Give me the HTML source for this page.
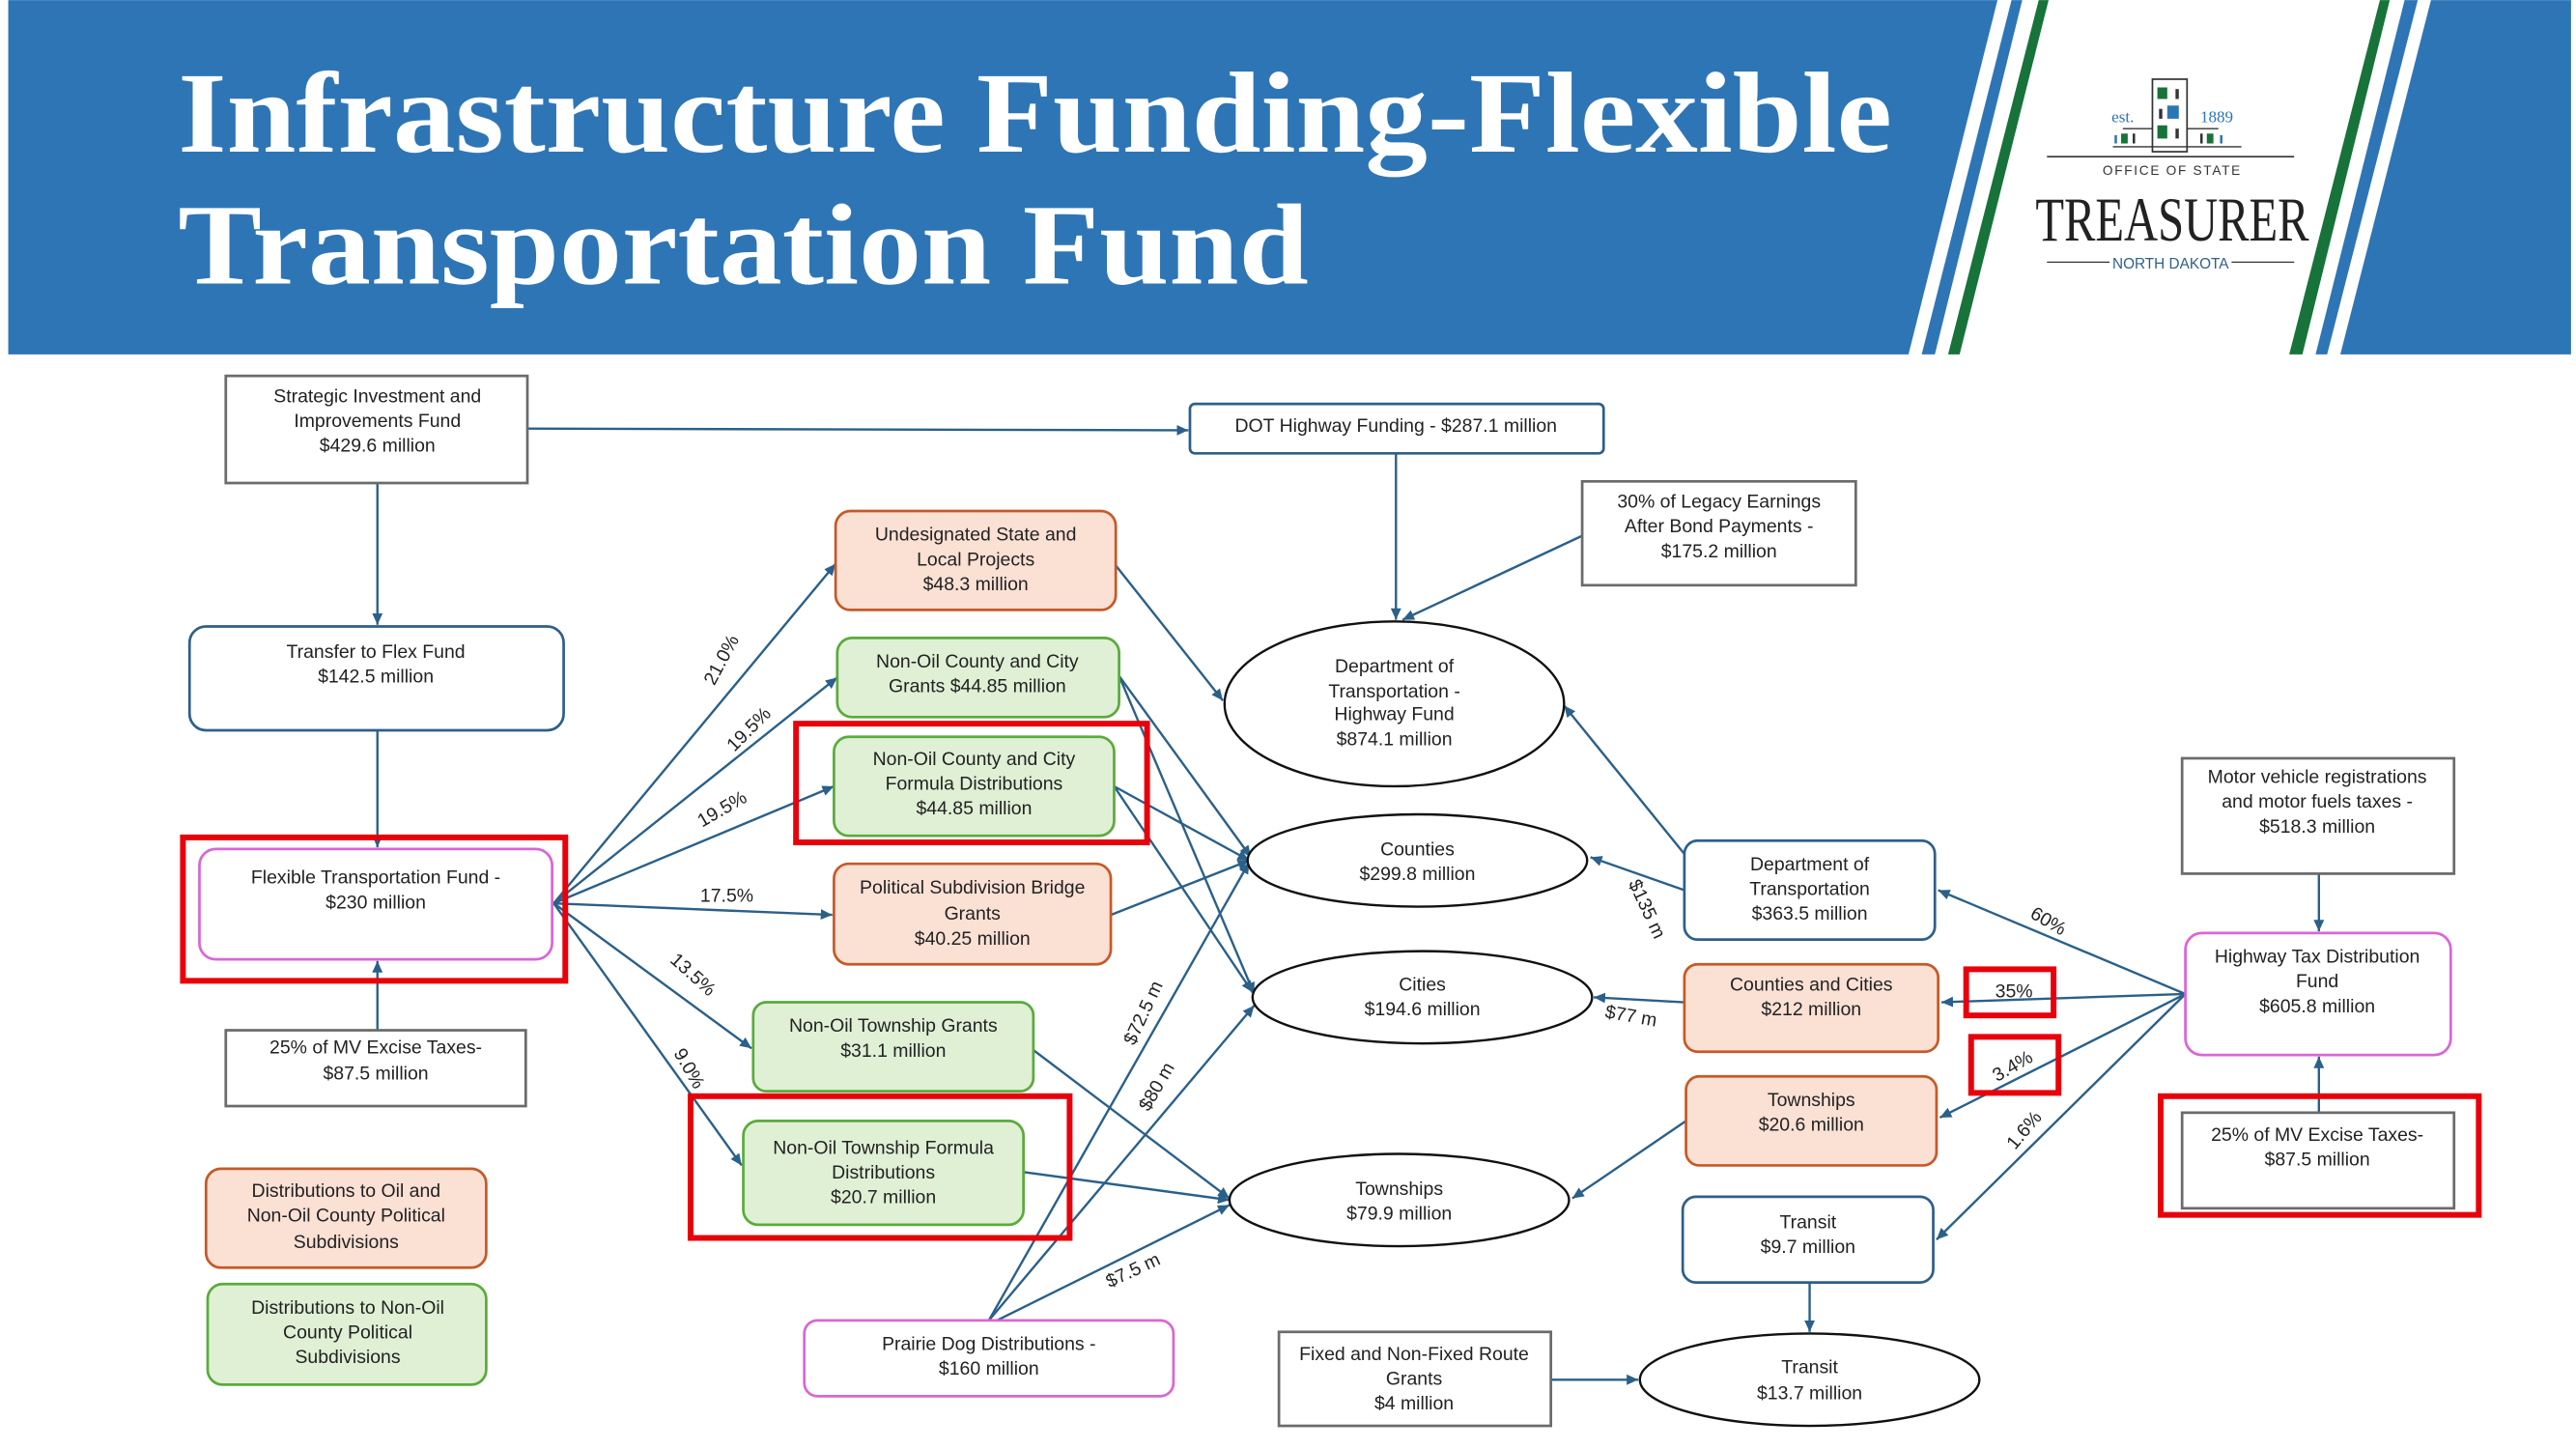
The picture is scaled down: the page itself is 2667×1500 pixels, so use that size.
<!DOCTYPE html>
<html><head><meta charset="utf-8"><style>
html,body{margin:0;padding:0;background:#fff;}
svg{display:block;}
.t{font-family:"Liberation Sans Narrow","Liberation Sans",sans-serif;font-size:11.4px;fill:#222;text-anchor:middle;}
.l{font-family:"Liberation Sans Narrow","Liberation Sans",sans-serif;font-size:11.4px;fill:#222;text-anchor:middle;}
.c{stroke:#2a6089;stroke-width:1.4;fill:none;marker-end:url(#a);}
.g{fill:#fff;stroke:#6b6b6b;stroke-width:1.6;}
.b{fill:#fff;stroke:#2e5f8a;stroke-width:1.6;}
.o{fill:#fbe0d4;stroke:#c55a28;stroke-width:1.6;}
.gr{fill:#dff0d5;stroke:#5aab3c;stroke-width:1.6;}
.p{fill:#fff;stroke:#d966d6;stroke-width:1.6;}
.e{fill:#fff;stroke:#111;stroke-width:1.4;}
.r{fill:none;stroke:#e8000b;stroke-width:3.5;}
</style></head><body>
<svg width="2667" height="1500" viewBox="0 0 1563 879" xmlns="http://www.w3.org/2000/svg">
<defs><marker id="a" markerWidth="8" markerHeight="8" refX="7" refY="4" orient="auto" markerUnits="userSpaceOnUse"><path d="M0,0.8 L7,4 L0,7.2 z" fill="#2a6089"/></marker></defs>
<rect width="1563" height="879" fill="#fff"/>
<polygon points="5,0 1212,0 1158,215 5,215" fill="#2e75b6"/>
<polygon points="1220.5,0 1227,0 1174,215 1166,215" fill="#2e75b6"/>
<polygon points="1237,0 1243,0 1189,215 1182,215" fill="#17733a"/>
<polygon points="1444,0 1450,0 1397,215 1389,215" fill="#17733a"/>
<polygon points="1459,0 1467,0 1412,215 1405,215" fill="#2e75b6"/>
<polygon points="1475,0 1560,0 1560,215 1420,215" fill="#2e75b6"/>
<text x="108" y="92" font-family="'Liberation Serif',serif" font-weight="bold" font-size="70" fill="#fff" textLength="1040" lengthAdjust="spacingAndGlyphs">Infrastructure Funding-Flexible</text>
<text x="108" y="172" font-family="'Liberation Serif',serif" font-weight="bold" font-size="70" fill="#fff" textLength="686" lengthAdjust="spacingAndGlyphs">Transportation Fund</text>
<rect x="1306" y="48" width="21" height="44" fill="#fff" stroke="#333" stroke-width="1"/>
<rect x="1309" y="53" width="6" height="7" fill="#17733a"/><rect x="1320" y="54" width="2" height="6" fill="#333"/>
<rect x="1310" y="66" width="2" height="6" fill="#333"/><rect x="1315" y="64" width="7" height="8" fill="#2e75b6"/>
<rect x="1309" y="76" width="6" height="8" fill="#17733a"/><rect x="1320" y="78" width="2" height="6" fill="#333"/>
<line x1="1288" y1="78" x2="1306" y2="78" stroke="#333" stroke-width="0.8"/><line x1="1327" y1="78" x2="1346" y2="78" stroke="#333" stroke-width="0.8"/>
<line x1="1282" y1="89" x2="1360" y2="89" stroke="#333" stroke-width="0.8"/>
<rect x="1287" y="81" width="4" height="6" fill="#17733a"/><rect x="1294" y="81" width="1.5" height="6" fill="#333"/><rect x="1283" y="82" width="1.5" height="5" fill="#2e75b6"/>
<rect x="1339" y="81" width="4" height="6" fill="#17733a"/><rect x="1335" y="81" width="1.5" height="6" fill="#333"/><rect x="1347" y="82" width="1.5" height="5" fill="#2e75b6"/>
<text x="1288" y="74" font-family="'Liberation Serif',serif" font-size="10" fill="#2e75b6" text-anchor="middle">est.</text>
<text x="1345" y="74" font-family="'Liberation Serif',serif" font-size="10" fill="#2e75b6" text-anchor="middle">1889</text>
<line x1="1242" y1="95" x2="1392" y2="95" stroke="#333" stroke-width="1"/>
<text x="1318" y="106" font-family="'Liberation Sans',sans-serif" font-size="8" fill="#333" text-anchor="middle" letter-spacing="1">OFFICE OF STATE</text>
<text x="1318" y="146" font-family="'Liberation Serif',serif" font-size="38" fill="#222" text-anchor="middle" textLength="166" lengthAdjust="spacingAndGlyphs">TREASURER</text>
<line x1="1242" y1="159" x2="1280" y2="159" stroke="#333" stroke-width="0.8"/><line x1="1354" y1="159" x2="1392" y2="159" stroke="#333" stroke-width="0.8"/>
<text x="1317" y="163" font-family="'Liberation Sans',sans-serif" font-size="9" fill="#2e5f8a" text-anchor="middle">NORTH DAKOTA</text>

<line class="c" x1="320" y1="260" x2="721" y2="261"/>
<line class="c" x1="229" y1="293" x2="229" y2="379"/>
<line class="c" x1="229" y1="443" x2="229" y2="514"/>
<line class="c" x1="229" y1="625" x2="229" y2="583"/>
<line class="c" x1="336" y1="548" x2="507" y2="342"/>
<line class="c" x1="336" y1="548" x2="508" y2="411"/>
<line class="c" x1="336" y1="548" x2="506" y2="477"/>
<line class="c" x1="336" y1="548" x2="505" y2="555"/>
<line class="c" x1="336" y1="548" x2="456" y2="636"/>
<line class="c" x1="336" y1="548" x2="450" y2="707"/>
<line class="c" x1="847" y1="275" x2="847" y2="376"/>
<line class="c" x1="960" y1="325" x2="851" y2="376"/>
<line class="c" x1="677" y1="343" x2="742" y2="425"/>
<line class="c" x1="679" y1="410" x2="759" y2="520"/>
<line class="c" x1="679" y1="410" x2="761" y2="603"/>
<line class="c" x1="676" y1="477" x2="758" y2="522"/>
<line class="c" x1="676" y1="477" x2="760" y2="602"/>
<line class="c" x1="674" y1="555" x2="758" y2="522"/>
<line class="c" x1="627" y1="637" x2="746" y2="727"/>
<line class="c" x1="621" y1="711" x2="746" y2="728"/>
<line class="c" x1="600" y1="801" x2="758" y2="523"/>
<line class="c" x1="600" y1="801" x2="761" y2="610"/>
<line class="c" x1="605" y1="801" x2="746" y2="731"/>
<line class="c" x1="1022" y1="518" x2="949" y2="428"/>
<line class="c" x1="1022" y1="540" x2="965" y2="520"/>
<line class="c" x1="1022" y1="608" x2="967" y2="605"/>
<line class="c" x1="1023" y1="680" x2="954" y2="727"/>
<line class="c" x1="1407" y1="530" x2="1407" y2="565"/>
<line class="c" x1="1407" y1="675" x2="1407" y2="641"/>
<line class="c" x1="1326" y1="603" x2="1176" y2="540"/>
<line class="c" x1="1326" y1="603" x2="1178" y2="608"/>
<line class="c" x1="1326" y1="603" x2="1177" y2="678"/>
<line class="c" x1="1326" y1="603" x2="1175" y2="752"/>
<line class="c" x1="1098" y1="778" x2="1098" y2="808"/>
<line class="c" x1="941" y1="837" x2="994" y2="837"/>

<text class="l" transform="translate(441,402) rotate(-62)">21.0%</text>
<text class="l" transform="translate(457,445) rotate(-45)">19.5%</text>
<text class="l" transform="translate(440,494) rotate(-30)">19.5%</text>
<text class="l" x="441" y="547">17.5%</text>
<text class="l" transform="translate(418,594) rotate(42)">13.5%</text>
<text class="l" transform="translate(415,650) rotate(60)">9.0%</text>
<text class="l" transform="translate(697,616) rotate(-65)">$72.5 m</text>
<text class="l" transform="translate(705,661) rotate(-60)">$80 m</text>
<text class="l" transform="translate(689,774) rotate(-25)">$7.5 m</text>
<text class="l" transform="translate(996,553) rotate(65)">$135 m</text>
<text class="l" transform="translate(989,620) rotate(10)">$77 m</text>
<text class="l" transform="translate(1241,562) rotate(30)">60%</text>
<text class="l" transform="translate(1231,688) rotate(-50)">1.6%</text>
<text class="l" x="1222" y="605">35%</text>
<text class="l" transform="translate(1223,650) rotate(-30)">3.4%</text>

<rect class="g" x="137" y="228" width="183" height="65"/>
<text class="t" x="229" y="244">Strategic Investment and</text><text class="t" x="229" y="259">Improvements Fund</text><text class="t" x="229" y="274">$429.6 million</text>
<rect class="b" x="722" y="245" width="251" height="30" rx="3"/>
<text class="t" x="847" y="262">DOT Highway Funding - $287.1 million</text>
<rect class="g" x="960" y="292" width="166" height="63"/>
<text class="t" x="1043" y="308">30% of Legacy Earnings</text><text class="t" x="1043" y="323">After Bond Payments -</text><text class="t" x="1043" y="338">$175.2 million</text>
<rect class="o" x="507" y="310" width="170" height="60" rx="9"/>
<text class="t" x="592" y="328">Undesignated State and</text><text class="t" x="592" y="343">Local  Projects</text><text class="t" x="592" y="358">$48.3 million</text>
<rect class="b" x="115" y="380" width="227" height="63" rx="10"/>
<text class="t" x="228" y="399">Transfer to Flex Fund</text><text class="t" x="228" y="414">$142.5 million</text>
<rect class="gr" x="508" y="387" width="171" height="48" rx="9"/>
<text class="t" x="593" y="405">Non-Oil County and City</text><text class="t" x="593" y="420">Grants  $44.85 million</text>
<rect class="gr" x="506" y="447" width="170" height="60" rx="9"/>
<text class="t" x="591" y="464">Non-Oil County  and City</text><text class="t" x="591" y="479">Formula Distributions</text><text class="t" x="591" y="494">$44.85 million</text>
<rect class="r" x="483" y="439" width="213" height="72"/>
<ellipse class="e" cx="846" cy="427" rx="103" ry="50"/>
<text class="t" x="846" y="408">Department of</text><text class="t" x="846" y="423">Transportation -</text><text class="t" x="846" y="437">Highway Fund</text><text class="t" x="846" y="452">$874.1 million</text>
<rect class="g" x="1324" y="460" width="165" height="70"/>
<text class="t" x="1406" y="475">Motor vehicle registrations</text><text class="t" x="1406" y="490">and motor fuels taxes -</text><text class="t" x="1406" y="505">$518.3 million</text>
<rect class="p" x="121" y="515" width="214" height="67" rx="10"/>
<text class="t" x="228" y="536">Flexible Transportation Fund -</text><text class="t" x="228" y="551">$230 million</text>
<rect class="r" x="111" y="508" width="232" height="87"/>
<rect class="o" x="506" y="524" width="168" height="61" rx="9"/>
<text class="t" x="590" y="542">Political Subdivision Bridge</text><text class="t" x="590" y="558">Grants</text><text class="t" x="590" y="573">$40.25 million</text>
<ellipse class="e" cx="860" cy="522" rx="103" ry="28"/>
<text class="t" x="860" y="519">Counties</text><text class="t" x="860" y="534">$299.8 million</text>
<rect class="b" x="1022" y="510" width="152" height="60" rx="8"/>
<text class="t" x="1098" y="528">Department of</text><text class="t" x="1098" y="543">Transportation</text><text class="t" x="1098" y="558">$363.5 million</text>
<rect class="p" x="1326" y="566" width="161" height="74" rx="10"/>
<text class="t" x="1406" y="584">Highway Tax Distribution</text><text class="t" x="1406" y="599">Fund</text><text class="t" x="1406" y="614">$605.8 million</text>
<rect class="o" x="1022" y="585" width="154" height="53" rx="8"/>
<text class="t" x="1099" y="601">Counties and Cities</text><text class="t" x="1099" y="616">$212 million</text>
<ellipse class="e" cx="863" cy="605" rx="103" ry="28"/>
<text class="t" x="863" y="601">Cities</text><text class="t" x="863" y="616">$194.6 million</text>
<rect class="r" x="1193" y="588" width="53" height="28"/>
<rect class="r" x="1196" y="629" width="53" height="34"/>
<rect class="gr" x="457" y="608" width="170" height="54" rx="8"/>
<text class="t" x="542" y="626">Non-Oil Township Grants</text><text class="t" x="542" y="641">$31.1 million</text>
<rect class="g" x="137" y="625" width="182" height="46"/>
<text class="t" x="228" y="639">25% of MV Excise Taxes-</text><text class="t" x="228" y="655">$87.5 million</text>
<rect class="o" x="1023" y="653" width="152" height="54" rx="8"/>
<text class="t" x="1099" y="671">Townships</text><text class="t" x="1099" y="686">$20.6 million</text>
<rect class="g" x="1324" y="675" width="165" height="58"/>
<text class="t" x="1406" y="692">25% of MV Excise Taxes-</text><text class="t" x="1406" y="707">$87.5 million</text>
<rect class="r" x="1311" y="665" width="193" height="72"/>
<rect class="gr" x="451" y="680" width="170" height="63" rx="9"/>
<text class="t" x="536" y="700">Non-Oil Township Formula</text><text class="t" x="536" y="715">Distributions</text><text class="t" x="536" y="730">$20.7 million</text>
<rect class="r" x="419" y="665" width="230" height="86"/>
<ellipse class="e" cx="849" cy="728" rx="103" ry="28"/>
<text class="t" x="849" y="725">Townships</text><text class="t" x="849" y="740">$79.9 million</text>
<rect class="o" x="125" y="709" width="170" height="60" rx="9"/>
<text class="t" x="210" y="726">Distributions to Oil and</text><text class="t" x="210" y="741">Non-Oil County Political</text><text class="t" x="210" y="757">Subdivisions</text>
<rect class="b" x="1021" y="726" width="152" height="52" rx="8"/>
<text class="t" x="1097" y="745">Transit</text><text class="t" x="1097" y="760">$9.7 million</text>
<rect class="gr" x="126" y="779" width="169" height="61" rx="9"/>
<text class="t" x="211" y="797">Distributions to Non-Oil</text><text class="t" x="211" y="812">County Political</text><text class="t" x="211" y="827">Subdivisions</text>
<rect class="p" x="488" y="801" width="224" height="46" rx="8"/>
<text class="t" x="600" y="819">Prairie Dog Distributions -</text><text class="t" x="600" y="834">$160 million</text>
<rect class="g" x="776" y="808" width="165" height="57"/>
<text class="t" x="858" y="825">Fixed and Non-Fixed Route</text><text class="t" x="858" y="840">Grants</text><text class="t" x="858" y="855">$4 million</text>
<ellipse class="e" cx="1098" cy="837" rx="103" ry="28"/>
<text class="t" x="1098" y="833">Transit</text><text class="t" x="1098" y="849">$13.7 million</text>
</svg>
</body></html>
